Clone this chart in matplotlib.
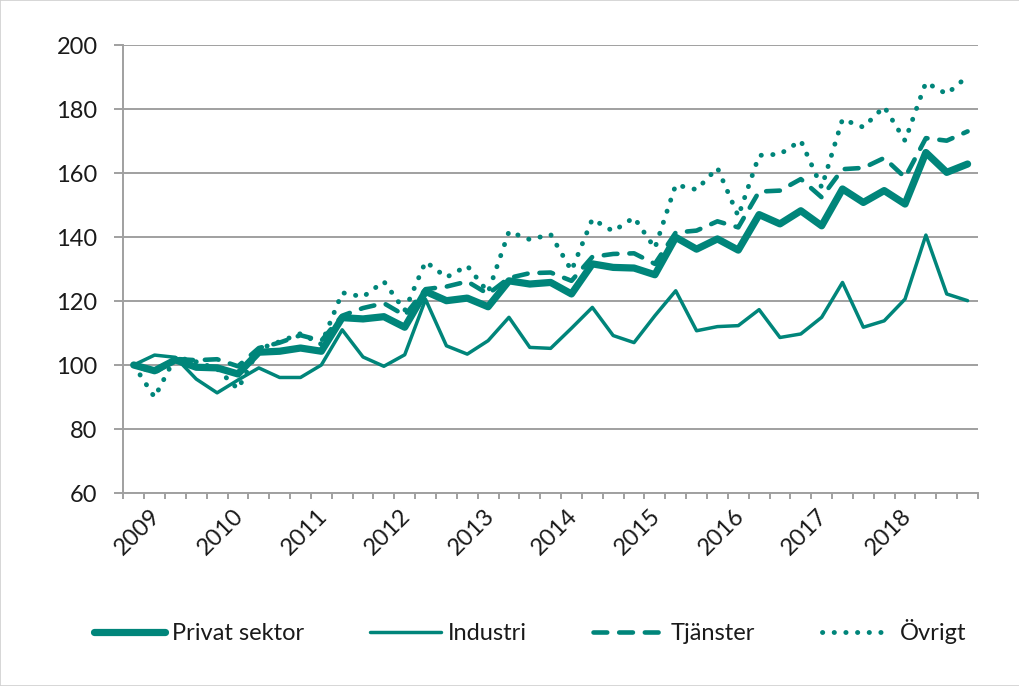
import matplotlib
matplotlib.use("Agg")
import matplotlib.pyplot as plt
import matplotlib.transforms as mtransforms
from matplotlib.patches import Rectangle

plt.rcParams['font.family'] = ['Lato', 'DejaVu Sans']

quarters = ["2008Q4"] + [f"{y}Q{q}" for y in range(2009, 2019) for q in range(1, 5)]
year_labels = [str(y) for y in range(2009, 2019)]

privat = [100, 98.2, 101.6, 99.3, 99.1, 97.2, 104, 104.3, 105.3, 104.3,
          114.8, 114.4, 115.1, 111.8, 123, 120.1, 120.9, 118.2, 126.3, 125.3,
          125.8, 122.2, 131.6, 130.5, 130.3, 128.2, 139.9, 136.2, 139.4, 135.9,
          147, 144.1, 148.2, 143.5, 155, 150.8, 154.5, 150.3, 166.4, 160.2, 162.8]
industri = [100, 103.1, 102.4, 95.6, 91.3, 95.3, 99.1, 96.1, 96.1, 100,
            111, 102.5, 99.6, 103.2, 120.5, 106, 103.4, 107.6, 114.9, 105.5,
            105.2, 111.5, 118, 109.2, 107, 115.4, 123.2, 110.7, 112, 112.3,
            117.3, 108.6, 109.7, 114.9, 125.8, 111.8, 113.8, 120.6, 140.6, 122.2, 120.1]
tjanster = [100, 97.5, 101.9, 101.5, 101.8, 99.6, 105.3, 107, 109.3, 107.6,
            115.4, 117.8, 119.3, 115.5, 123.7, 124.5, 126.1, 122.2, 127.2, 128.7,
            128.9, 126.3, 133.8, 134.7, 134.9, 131.6, 141.4, 142, 144.9, 143,
            154.2, 154.5, 158.1, 152.4, 161.2, 161.6, 164.7, 158.6, 170.9, 170.1, 173]
ovrigt = [100, 89.9, 102.5, 101, 98.8, 92.5, 105, 107.3, 109.8, 106.5,
          122.6, 121.3, 126.1, 117, 132.3, 127.4, 131, 122.7, 141.7, 139.2,
          140.8, 129.5, 145.6, 141.8, 146.1, 136.5, 156.3, 154.8, 161.6, 146.5,
          165.5, 165.9, 170.1, 155.5, 176.8, 174.3, 180.7, 170.1, 188.3, 184.7, 190.2]

teal = "#00857A"
grid_c = "#A0A0A0"
txt_c = "#1a1a1a"

fig = plt.figure(figsize=(10.2, 6.86), dpi=100)
ax = fig.add_axes([123.3/1020, 1-493/686, (978-123.3)/1020, (493-45)/686])

x = list(range(len(quarters)))
l1, = ax.plot(x, privat, color=teal, lw=5.2, solid_capstyle='round', solid_joinstyle='round', label="Privat sektor", zorder=3)
l2, = ax.plot(x, industri, color=teal, lw=2.5, solid_capstyle='round', solid_joinstyle='round', label="Industri", zorder=3)
l3, = ax.plot(x, tjanster, color=teal, lw=3.3, dashes=(3.0, 2.6), dash_capstyle='round', dash_joinstyle='round', label="Tjänster", zorder=3)
l4, = ax.plot(x, ovrigt, color=teal, lw=3.5, dashes=(0.05, 2.35), dash_capstyle='round', label="Övrigt", zorder=3)

ax.set_xlim(-0.5, len(quarters)-0.5)
ax.set_ylim(60, 200)
ax.set_yticks(range(60, 201, 20))
ax.grid(axis='y', color=grid_c, lw=1.4)
ax.set_axisbelow(True)
for s in ['top', 'right']:
    ax.spines[s].set_visible(False)
for s in ['left', 'bottom']:
    ax.spines[s].set_color(grid_c)
    ax.spines[s].set_linewidth(1.4)

ax.tick_params(axis='y', length=6.5, width=1.4, color=grid_c, pad=12, labelsize=17, labelcolor=txt_c)
label_pos = [quarters.index(f"{y}Q1") for y in range(2009, 2019)]
ax.set_xticks(label_pos)
ax.set_xticklabels(year_labels, rotation=45, ha='right', fontsize=17, color=txt_c)
ax.tick_params(axis='x', which='major', length=0, pad=9)
ax.set_xticks([i - 0.5 for i in range(len(quarters)+1)], minor=True)
ax.tick_params(axis='x', which='minor', length=4.5, width=1.4, color=grid_c)
offset = mtransforms.ScaledTranslation(10/100, 0, fig.dpi_scale_trans)
for lab in ax.get_xticklabels():
    lab.set_transform(lab.get_transform() + offset)

fig.legend(handles=[l1, l2, l3, l4], loc='center', bbox_to_anchor=(530/1020, 1-632/686),
           ncol=4, frameon=False, fontsize=17, handlelength=3.0, columnspacing=2.8,
           handletextpad=0.3, labelcolor=txt_c)

fig.patches.append(Rectangle((0, 0), 1, 1, transform=fig.transFigure, fill=False,
                             edgecolor='#D0D0D0', lw=1.2))
fig.savefig("out.png", dpi=100)
